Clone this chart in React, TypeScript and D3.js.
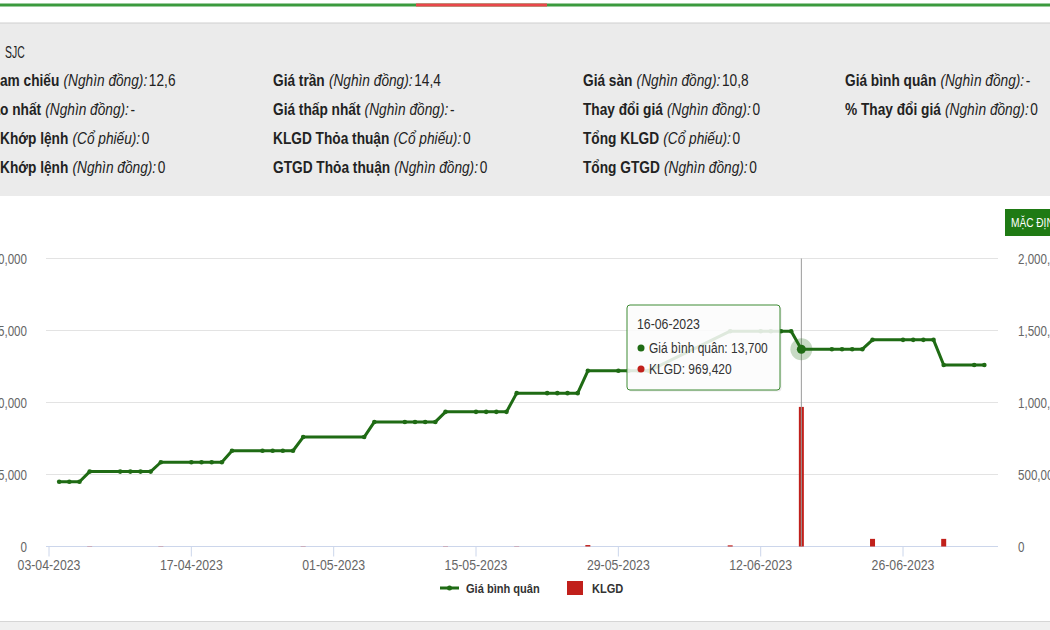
import React from "react";
import * as d3 from "d3";

// ---------- data ----------
const dates = [
  "2023-04-04", "2023-04-05", "2023-04-06", "2023-04-07",
  "2023-04-10", "2023-04-11", "2023-04-12", "2023-04-13", "2023-04-14",
  "2023-04-17", "2023-04-18", "2023-04-19", "2023-04-20", "2023-04-21",
  "2023-04-24", "2023-04-25", "2023-04-26", "2023-04-27", "2023-04-28",
  "2023-05-04", "2023-05-05",
  "2023-05-08", "2023-05-09", "2023-05-10", "2023-05-11", "2023-05-12",
  "2023-05-15", "2023-05-16", "2023-05-17", "2023-05-18", "2023-05-19",
  "2023-05-22", "2023-05-23", "2023-05-24", "2023-05-25", "2023-05-26",
  "2023-05-29", "2023-05-30", "2023-05-31", "2023-06-01",
  "2023-06-09",
  "2023-06-12", "2023-06-13", "2023-06-14", "2023-06-15", "2023-06-16",
  "2023-06-19", "2023-06-20", "2023-06-21", "2023-06-22", "2023-06-23",
  "2023-06-26", "2023-06-27", "2023-06-28", "2023-06-29", "2023-06-30",
  "2023-07-03", "2023-07-04",
];
const avgPrice = [
  4500, 4500, 4500, 5200,
  5200, 5200, 5200, 5200, 5850,
  5850, 5850, 5850, 5850, 6650,
  6650, 6650, 6650, 6650, 7600,
  7600, 8650,
  8650, 8650, 8650, 8650, 9350,
  9350, 9350, 9350, 9350, 10650,
  10650, 10650, 10650, 10650, 12200,
  12200, 12200, 12200, 12200,
  14950,
  14950, 14950, 14950, 14950, 13700,
  13700, 13700, 13700, 13700, 14350,
  14350, 14350, 14350, 14350, 12600,
  12600, 12600,
];
const volume = [
  0, 0, 0, 1500,
  0, 0, 0, 0, 1500,
  0, 0, 0, 0, 0,
  0, 0, 0, 0, 1500,
  0, 0,
  0, 0, 0, 0, 1500,
  0, 0, 0, 0, 1500,
  0, 0, 0, 0, 10000,
  0, 0, 0, 0,
  8000,
  0, 0, 0, 0, 969420,
  0, 0, 0, 0, 53000,
  0, 0, 0, 0, 53000,
  0, 0,
];
const xTickLabels = ["03-04-2023", "17-04-2023", "01-05-2023", "15-05-2023", "29-05-2023", "12-06-2023", "26-06-2023"];
const leftTicks = [0, 5000, 10000, 15000, 20000];
const rightTicks = [0, 500000, 1000000, 1500000, 2000000];
const hoverDate = "2023-06-16";

// header rows: [hiddenPrefix, boldLabel, italicUnit, value]
const headerCol1 = [
  ["Giá th", "am chiếu", "(Nghìn đồng):", "12,6"],
  ["Giá ca", "o nhất", "(Nghìn đồng):", "-"],
  ["KLGD ", "Khớp lệnh", "(Cổ phiếu):", "0"],
  ["GTGD ", "Khớp lệnh", "(Nghìn đồng):", "0"],
];
const headerCol2 = [
  ["Giá trần", "(Nghìn đồng):", "14,4"],
  ["Giá thấp nhất", "(Nghìn đồng):", "-"],
  ["KLGD Thỏa thuận", "(Cổ phiếu):", "0"],
  ["GTGD Thỏa thuận", "(Nghìn đồng):", "0"],
];
const headerCol3 = [
  ["Giá sàn", "(Nghìn đồng):", "10,8"],
  ["Thay đổi giá", "(Nghìn đồng):", "0"],
  ["Tổng KLGD", "(Cổ phiếu):", "0"],
  ["Tổng GTGD", "(Nghìn đồng):", "0"],
];
const headerCol4 = [
  ["Giá bình quân", "(Nghìn đồng):", "-"],
  ["% Thay đổi giá", "(Nghìn đồng):", "0"],
];

// ---------- layout ----------
const W = 1050, H = 630;
const FONT = "'Liberation Sans', Arial, sans-serif";
const plotLeft = 46, plotRight = 998, plotTop = 258.5, plotBottom = 546.5;
const GREEN = "#1f6b14";
const RED = "#c1201b";

const parse = d3.utcParse("%Y-%m-%d");
const parseTick = d3.utcParse("%d-%m-%Y");

// condensed text helper
function T(props: any) {
  const { x, y, sx = 0.78, anchor = "start", size = 15, fill = "#222", weight, children, dy } = props;
  return (
    <text
      transform={`translate(${x},${y}) scale(${sx},1)`}
      textAnchor={anchor}
      fontSize={size}
      fill={fill}
      fontWeight={weight}
      dy={dy}
      fontFamily={FONT}
    >
      {children}
    </text>
  );
}

export default function App() {
  const pts = dates.map((d, i) => ({ date: parse(d) as Date, price: avgPrice[i], vol: volume[i] }));
  const x = d3.scaleUtc()
    .domain([parse("2023-04-03") as Date, parse("2023-07-06") as Date])
    .range([49, 49 + 94 * 10.167]);
  const yL = d3.scaleLinear().domain([0, 20000]).range([plotBottom, plotTop]);
  const yR = d3.scaleLinear().domain([0, 2000000]).range([plotBottom, plotTop]);
  const line = d3.line<any>().x((p) => x(p.date)).y((p) => yL(p.price));
  const fmt = d3.format(",");

  const hover = pts.find((p) => d3.utcFormat("%Y-%m-%d")(p.date) === hoverDate)!;
  const hx = x(hover.date), hy = yL(hover.price);

  const rowY = [80, 109, 138, 167];
  const HS = 0.83; // header condensation
  const HF = 16.5; // header font size
  const colText = (cols: string[][], cx: number) =>
    cols.map((c, i) => (
      <T key={i} x={cx} y={rowY[i] + 5.5} sx={HS} size={HF}>
        <tspan fontWeight="bold">{c[0]}</tspan>
        <tspan fontStyle="italic" dx={5}>{c[1]}</tspan>
        <tspan dx={2}>{c[2]}</tspan>
      </T>
    ));

  // tooltip geometry
  const tipX = 627, tipY = 305, tipW = 153, tipH = 85;

  return (
    <svg width={W} height={H} style={{ position: "absolute", left: 0, top: 0, background: "#fff" }} fontFamily={FONT}>
      {/* top stripe */}
      <rect x={0} y={3.5} width={W} height={3} fill="#3b9a3e" />
      <rect x={416} y={3.5} width={131} height={3} fill="#e9474b" />
      {/* header panel */}
      <rect x={0} y={23} width={W} height={173} fill="#ebebeb" />
      <line x1={0} x2={W} y1={23} y2={23} stroke="#cfcfcf" />
      <T x={-1} y={57.5} sx={0.65} size={16} anchor="end">Mã CK:</T>
      <T x={5} y={57.5} sx={0.65} size={16}>SJC</T>
      {headerCol1.map((c, i) => (
        <g key={i}>
          <T x={0} y={rowY[i] + 5.5} sx={HS} size={HF} anchor="end" weight="bold">{c[0]}</T>
          <T x={0} y={rowY[i] + 5.5} sx={HS} size={HF}>
            <tspan fontWeight="bold">{c[1]}</tspan>
            <tspan fontStyle="italic" dx={5}>{c[2]}</tspan>
            <tspan dx={2}>{c[3]}</tspan>
          </T>
        </g>
      ))}
      {colText(headerCol2, 273)}
      {colText(headerCol3, 583)}
      {colText(headerCol4, 845)}

      {/* button */}
      <rect x={1005} y={209} width={60} height={27} fill="#1f7a14" />
      <T x={1011} y={227} sx={0.78} size={13} fill="#fff">MẶC ĐỊNH</T>

      {/* gridlines */}
      {leftTicks.map((t) => (
        <line key={t} x1={plotLeft} x2={plotRight} y1={yL(t)} y2={yL(t)} stroke={t === 0 ? "#ccd6eb" : "#e3e3e3"} strokeWidth={1} />
      ))}
      {/* left axis labels */}
      {leftTicks.map((t) => (
        <T key={t} x={27} y={yL(t)} dy="0.35em" anchor="end" size={14.5} sx={0.8} fill="#666">{fmt(t)}</T>
      ))}
      {/* right axis labels */}
      {rightTicks.map((t) => (
        <T key={t} x={1018} y={yR(t)} dy="0.35em" anchor="start" size={14.5} sx={0.8} fill="#666">{fmt(t)}</T>
      ))}
      {/* x ticks */}
      {xTickLabels.map((l) => {
        const tx = x(parseTick(l) as Date);
        return (
          <g key={l}>
            <line x1={tx} x2={tx} y1={plotBottom} y2={plotBottom + 10} stroke="#ccd6eb" />
            <T x={tx} y={570} anchor="middle" size={15} sx={0.82} fill="#666">{l}</T>
          </g>
        );
      })}

      {/* volume bars */}
      {pts.filter((p) => p.vol > 0).map((p, i) => (
        <rect key={i} x={x(p.date) - 2.5} width={5} y={yR(p.vol)} height={plotBottom - yR(p.vol)} fill={RED} />
      ))}

      {/* crosshair */}
      <line x1={hx} x2={hx} y1={plotTop} y2={plotBottom} stroke="#9a9a9a" strokeWidth={1} />

      {/* price line */}
      <path d={line(pts) || ""} fill="none" stroke={GREEN} strokeWidth={3} strokeLinejoin="round" />
      {pts.map((p, i) => (
        <circle key={i} cx={x(p.date)} cy={yL(p.price)} r={2.3} fill={GREEN} />
      ))}
      {/* hover halo */}
      <circle cx={hx} cy={hy} r={11} fill={GREEN} fillOpacity={0.25} />
      <circle cx={hx} cy={hy} r={4.5} fill={GREEN} />

      {/* tooltip */}
      <rect x={tipX + 1.5} y={tipY + 1.5} width={tipW} height={tipH} rx={3} fill="#000" fillOpacity={0.08} />
      <rect x={tipX} y={tipY} width={tipW} height={tipH} rx={3} fill="#fff" fillOpacity={0.86} stroke="#3d8a32" strokeWidth={1} />
      <T x={tipX + 10} y={tipY + 24} size={15} sx={0.82} fill="#333">{d3.utcFormat("%d-%m-%Y")(hover.date)}</T>
      <circle cx={tipX + 14} cy={tipY + 43} r={3.5} fill={GREEN} />
      <T x={tipX + 22} y={tipY + 48} size={15} sx={0.8} fill="#333">Giá bình quân: {fmt(hover.price)}</T>
      <circle cx={tipX + 14} cy={tipY + 64} r={3.5} fill={RED} />
      <T x={tipX + 22} y={tipY + 69} size={15} sx={0.8} fill="#333">KLGD: {fmt(hover.vol)}</T>

      {/* legend */}
      <line x1={440} x2={459} y1={588} y2={588} stroke={GREEN} strokeWidth={3} />
      <circle cx={449.5} cy={588} r={2.5} fill={GREEN} />
      <T x={466} y={593} size={13.5} sx={0.82} weight="bold" fill="#333">Giá bình quân</T>
      <rect x={567} y={581} width={16} height={14} fill={RED} />
      <T x={592} y={593} size={13.5} sx={0.82} weight="bold" fill="#333">KLGD</T>

      {/* bottom band */}
      <rect x={0} y={622} width={W} height={8} fill="#f0f0f0" />
      <line x1={0} x2={W} y1={621.5} y2={621.5} stroke="#d6d6d6" />
    </svg>
  );
}
